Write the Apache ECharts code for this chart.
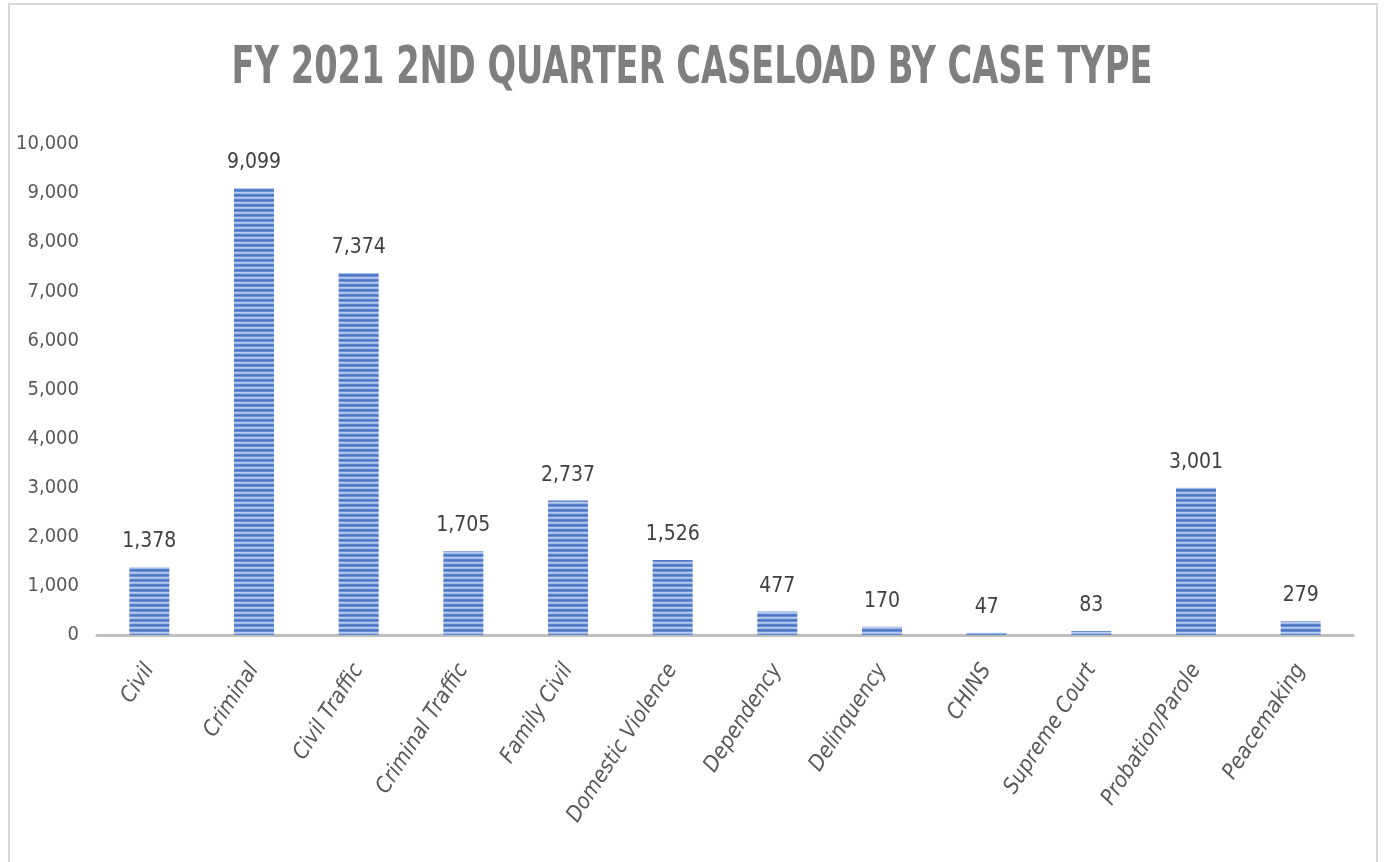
<!DOCTYPE html>
<html><head><meta charset="utf-8">
<script src="https://cdn.jsdelivr.net/npm/echarts@6/dist/echarts.min.js"></script>
<style>html,body{margin:0;padding:0;background:#fff}#c{width:1385px;height:862px}</style>
</head><body><div id="c"></div>
<script>
const categories = ['Civil','Criminal','Civil Traffic','Criminal Traffic','Family Civil','Domestic Violence','Dependency','Delinquency','CHINS','Supreme Court','Probation/Parole','Peacemaking'];
const caseloads = [1378, 9099, 7374, 1705, 2737, 1526, 477, 170, 47, 83, 3001, 279];
const titleText = 'FY 2021 2ND QUARTER CASELOAD BY CASE TYPE';

const FONT = "'DejaVu Sans Condensed','Liberation Sans Narrow',Roboto,sans-serif";

// striped pattern
const pc = document.createElement('canvas');
pc.width = 8; pc.height = 5;
const px = pc.getContext('2d');
const rows = ['#4a75c6','#6a8fd2','#b9cbec','#a0b8e4','#5b82cc'];
rows.forEach((c,i)=>{px.fillStyle=c;px.fillRect(0,i,8,1);});

const chart = echarts.init(document.getElementById('c'));
chart.setOption({
  backgroundColor:'#fff',
  animation:false,
  graphic:[
    {type:'rect',shape:{x:9,y:4,width:1368,height:870},style:{fill:'none',stroke:'#d9d9d9',lineWidth:2},silent:true},
    {type:'text',x:692,y:69,scaleX:0.72,silent:true,
     style:{text:titleText,font:"bold 52px 'DejaVu Sans Condensed', sans-serif",fill:'#7f7f7f',textAlign:'center',textVerticalAlign:'middle'}}
  ],
  grid:{left:97,right:32,top:144,bottom:227},
  xAxis:{type:'category',data:categories,
    axisLine:{lineStyle:{color:'#bfbfbf',width:3}},axisTick:{show:false},
    axisLabel:{rotate:57,interval:0,fontFamily:FONT,fontStyle:'italic',fontSize:22,color:'#595959',margin:31}},
  yAxis:{type:'value',min:0,max:10000,interval:1000,
    axisLine:{show:false},axisTick:{show:false},splitLine:{show:false},
    axisLabel:{fontFamily:FONT,fontSize:20,color:'#595959',margin:18,
      formatter:v=>v.toLocaleString('en-US')}},
  series:[{type:'bar',data:caseloads,barWidth:40,
    itemStyle:{color:{image:pc,repeat:'repeat'}},
    label:{show:true,position:'top',distance:15,fontFamily:FONT,fontSize:21,color:'#404040',
      formatter:p=>p.value.toLocaleString('en-US')}}]
});
</script></body></html>
